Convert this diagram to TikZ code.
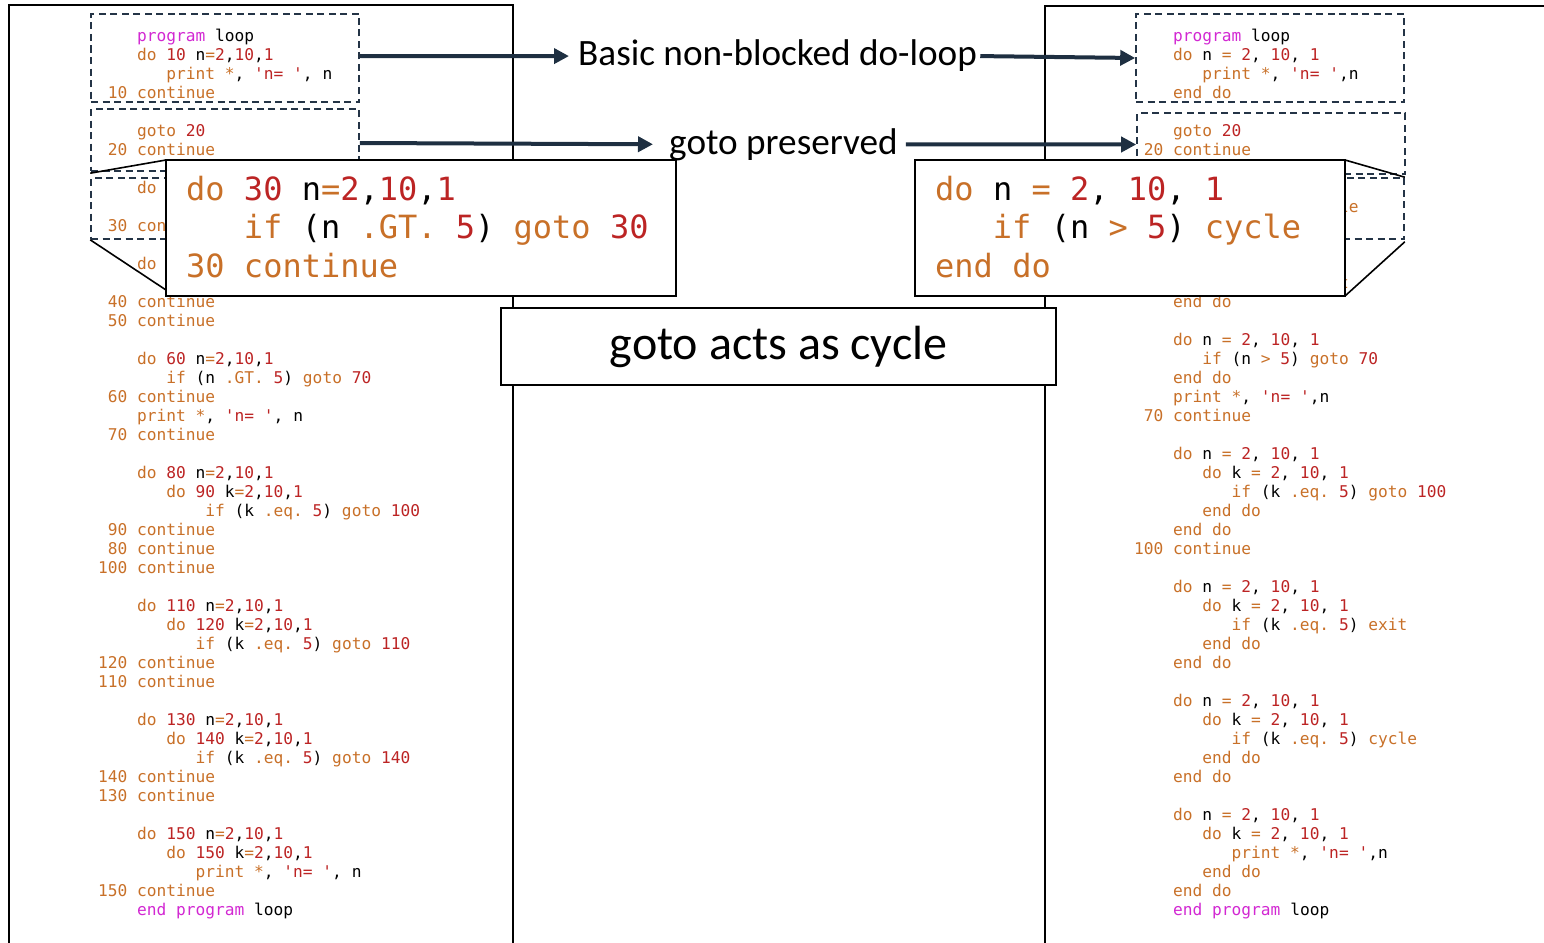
\documentclass[tikz,border=0pt]{standalone}
\usepackage{fontspec}
\setmonofont{DejaVu Sans Mono}
\newfontfamily\lbl{Carlito}
\usetikzlibrary{arrows.meta}
\definecolor{kwc}{RGB}{200,112,40}
\definecolor{numc}{RGB}{188,36,36}
\definecolor{prgc}{RGB}{210,40,210}
\definecolor{navy}{RGB}{30,47,65}
\definecolor{dashc}{RGB}{36,52,70}
\newcommand\kw[1]{\textcolor{kwc}{#1}}
\newcommand\nm[1]{\textcolor{numc}{#1}}
\newcommand\pg[1]{\textcolor{prgc}{#1}}
% one line of source code: column, row, text
\newcommand\lline[3]{\node[sc] (lc#2) at ({98+9.75*#1},{41.4+19*#2}) {#3};}
\newcommand\rline[3]{\node[sc] (rc#2) at ({1134+9.75*#1},{41.4+19*#2}) {#3};}
\newcommand\oldrange[1]{\kw{do} \nm{#1} n\kw{=}\nm{2},\nm{10},\nm{1}}
\newcommand\oldkrange[1]{\kw{do} \nm{#1} k\kw{=}\nm{2},\nm{10},\nm{1}}
\newcommand\newrange[1]{\kw{do} #1 \kw{=} \nm{2}, \nm{10}, \nm{1}}
\tikzset{
  sc/.style={anchor=base west, inner sep=0pt, font=\ttfamily\fontsize{16.2}{19}\selectfont},
  bc/.style={anchor=base west, inner sep=0pt, font=\ttfamily\fontsize{32}{38}\selectfont},
  panel/.style={draw=black, line width=1.6pt},
  dbox/.style={draw=dashc, line width=1.6pt, dash pattern=on 7pt off 4.5pt, minimum width=268pt, inner sep=0pt},
  zbox/.style={draw=black, fill=white, line width=1.6pt, inner sep=0pt, minimum height=136pt},
  arr/.style={draw=navy, line width=4pt, -{Triangle[length=15pt,width=15pt]}},
  lab/.style={inner sep=0pt, font=\lbl\fontsize{37.2}{40}\selectfont},
  callout/.style={draw=black, line width=1.6pt},
}
\begin{document}
\begin{tikzpicture}[x=1pt, y=-1pt]
\useasboundingbox (0,0) rectangle (1544,942);

% the two program listings
\draw[panel] (9,980) -- (9,5) -- (513,5) -- (513,980);
\draw[panel, line width=1.2pt] (1045,980) -- (1045,6) -- (1580,6);

% legacy listing
\lline{4}{0}{\pg{program} loop}
\lline{4}{1}{\oldrange{10}}
\lline{7}{2}{\kw{print *}, \nm{'n= '}, n}
\lline{1}{3}{\kw{10 continue}}
\lline{4}{5}{\kw{goto} \nm{20}}
\lline{1}{6}{\kw{20 continue}}
\lline{4}{8}{\oldrange{30}}
\lline{7}{9}{\kw{if} (n \kw{.GT.} \nm{5}) \kw{goto} \nm{30}}
\lline{1}{10}{\kw{30 continue}}
\lline{4}{12}{\oldrange{40}}
\lline{7}{13}{\kw{if} (n \kw{.GT.} \nm{5}) \kw{goto} \nm{50}}
\lline{1}{14}{\kw{40 continue}}
\lline{1}{15}{\kw{50 continue}}
\lline{4}{17}{\oldrange{60}}
\lline{7}{18}{\kw{if} (n \kw{.GT.} \nm{5}) \kw{goto} \nm{70}}
\lline{1}{19}{\kw{60 continue}}
\lline{4}{20}{\kw{print *}, \nm{'n= '}, n}
\lline{1}{21}{\kw{70 continue}}
\lline{4}{23}{\oldrange{80}}
\lline{7}{24}{\oldkrange{90}}
\lline{11}{25}{\kw{if} (k \kw{.eq.} \nm{5}) \kw{goto} \nm{100}}
\lline{1}{26}{\kw{90 continue}}
\lline{1}{27}{\kw{80 continue}}
\lline{0}{28}{\kw{100 continue}}
\lline{4}{30}{\oldrange{110}}
\lline{7}{31}{\oldkrange{120}}
\lline{10}{32}{\kw{if} (k \kw{.eq.} \nm{5}) \kw{goto} \nm{110}}
\lline{0}{33}{\kw{120 continue}}
\lline{0}{34}{\kw{110 continue}}
\lline{4}{36}{\oldrange{130}}
\lline{7}{37}{\oldkrange{140}}
\lline{10}{38}{\kw{if} (k \kw{.eq.} \nm{5}) \kw{goto} \nm{140}}
\lline{0}{39}{\kw{140 continue}}
\lline{0}{40}{\kw{130 continue}}
\lline{4}{42}{\oldrange{150}}
\lline{7}{43}{\oldkrange{150}}
\lline{10}{44}{\kw{print *}, \nm{'n= '}, n}
\lline{0}{45}{\kw{150 continue}}
\lline{4}{46}{\pg{end program} loop}

% modernised listing
\rline{4}{0}{\pg{program} loop}
\rline{4}{1}{\newrange{n}}
\rline{7}{2}{\kw{print *}, \nm{'n= '},n}
\rline{4}{3}{\kw{end do}}
\rline{4}{5}{\kw{goto} \nm{20}}
\rline{1}{6}{\kw{20 continue}}
\rline{4}{8}{\newrange{n}}
\rline{7}{9}{\kw{if} (n \kw{>} \nm{5}) \kw{cycle}}
\rline{4}{10}{\kw{end do}}
\rline{4}{12}{\newrange{n}}
\rline{7}{13}{\kw{if} (n \kw{>} \nm{5}) \kw{exit}}
\rline{4}{14}{\kw{end do}}
\rline{4}{16}{\newrange{n}}
\rline{7}{17}{\kw{if} (n \kw{>} \nm{5}) \kw{goto} \nm{70}}
\rline{4}{18}{\kw{end do}}
\rline{4}{19}{\kw{print *}, \nm{'n= '},n}
\rline{1}{20}{\kw{70 continue}}
\rline{4}{22}{\newrange{n}}
\rline{7}{23}{\newrange{k}}
\rline{10}{24}{\kw{if} (k \kw{.eq.} \nm{5}) \kw{goto} \nm{100}}
\rline{7}{25}{\kw{end do}}
\rline{4}{26}{\kw{end do}}
\rline{0}{27}{\kw{100 continue}}
\rline{4}{29}{\newrange{n}}
\rline{7}{30}{\newrange{k}}
\rline{10}{31}{\kw{if} (k \kw{.eq.} \nm{5}) \kw{exit}}
\rline{7}{32}{\kw{end do}}
\rline{4}{33}{\kw{end do}}
\rline{4}{35}{\newrange{n}}
\rline{7}{36}{\newrange{k}}
\rline{10}{37}{\kw{if} (k \kw{.eq.} \nm{5}) \kw{cycle}}
\rline{7}{38}{\kw{end do}}
\rline{4}{39}{\kw{end do}}
\rline{4}{41}{\newrange{n}}
\rline{7}{42}{\newrange{k}}
\rline{10}{43}{\kw{print *}, \nm{'n= '},n}
\rline{7}{44}{\kw{end do}}
\rline{4}{45}{\kw{end do}}
\rline{4}{46}{\pg{end program} loop}

% dashed blocks around corresponding fragments
\node[dbox, minimum height=88pt] (lb1) at (225,58) {};
\node[dbox, minimum height=62pt] (lb2) at (225,140) {};
\node[dbox, minimum height=61pt] (lb3) at (225,208.5) {};
\node[dbox, minimum height=88pt] (rb1) at (1270,58) {};
\node[dbox, minimum height=61pt] (rb2) at (1271,143.5) {};
\node[dbox, minimum height=61pt] (rb3) at (1270,208.5) {};

% transformation labels and arrows
\node[lab, anchor=base west] (t1) at (578,66) {Basic non-blocked do-loop};
\node[lab, anchor=base west] (t2) at (669,154) {goto preserved};
\draw[arr] ([yshift=2pt]lb1.east) -- ([xshift=-9pt]t1.west);
\draw[arr] ([xshift=3pt]t1.east) -- (rb1.west);
\draw[arr] ([yshift=-3pt]lb2.east) -- ([xshift=-16pt]t2.west);
\draw[arr] ([xshift=8pt]t2.east) -- ([yshift=-1pt]rb2.west);

% magnified views of the third block
\draw[callout] ([yshift=4pt]lb3.north west) -- (166,160);
\draw[callout] (lb3.south west) -- (166,290);
\draw[callout] (1345,160) -- (rb3.north east);
\draw[callout] (1345,296) -- ([yshift=-2pt]rb3.south east);
\node[zbox, minimum width=510pt] (zl) at (421,228) {};
\node[zbox, minimum width=430pt] (zr) at (1130,228) {};
\node[bc] (zl0) at (186,200) {\oldrange{30}};
\node[bc] (zl1) at ({186+19.25*3},238.5) {\kw{if} (n \kw{.GT.} \nm{5}) \kw{goto} \nm{30}};
\node[bc] (zl2) at (186,277) {\kw{30 continue}};
\node[bc] (zr0) at (935,200) {\newrange{n}};
\node[bc] (zr1) at ({935+19.25*3},238.5) {\kw{if} (n \kw{>} \nm{5}) \kw{cycle}};
\node[bc] (zr2) at (935,277) {\kw{end do}};

% conclusion
\node[draw=black, fill=white, line width=1.6pt, minimum width=555pt, minimum height=77pt,
      inner sep=0pt, font=\lbl\fontsize{48}{52}\selectfont] (cyc) at (778.5,346.5) {\raisebox{-3pt}{goto acts as cycle}};
\end{tikzpicture}
\end{document}
